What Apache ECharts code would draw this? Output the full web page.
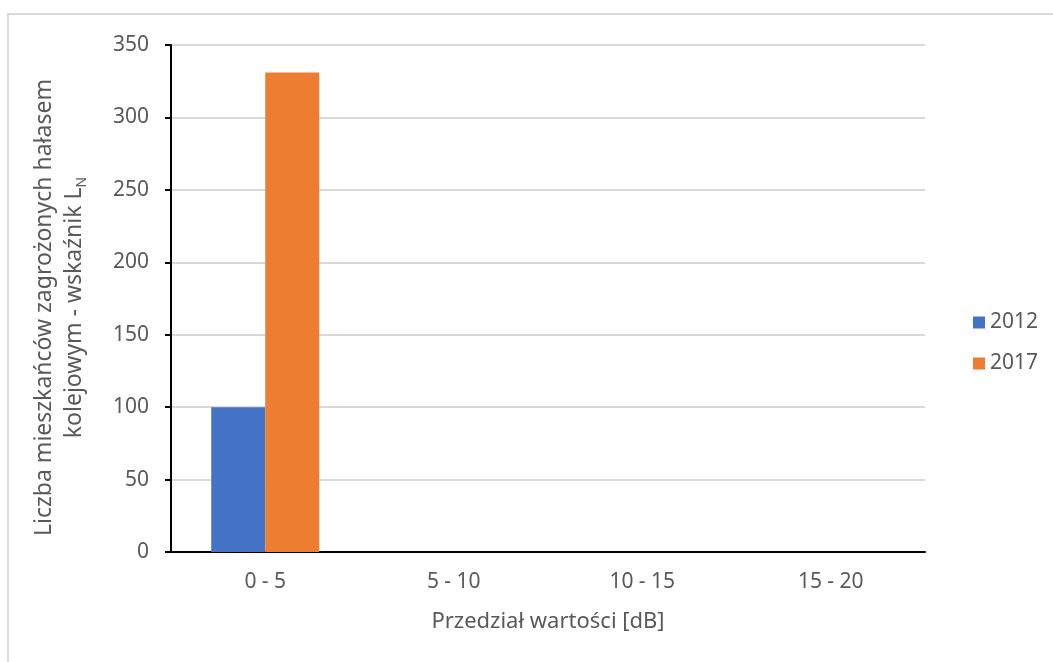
<!DOCTYPE html>
<html>
<head>
<meta charset="utf-8">
<script src="https://cdn.jsdelivr.net/npm/echarts@6/dist/echarts.min.js"></script>
<style>
  html, body { margin: 0; padding: 0; background: #fff; }
  #main { width: 1053px; height: 662px; }
  .frame { position: absolute; left: 7px; top: 13px; right: -4px; bottom: -4px; border: 2px solid #d9d9d9; pointer-events: none; }
</style>
</head>
<body>
<div id="main"></div>
<div class="frame"></div>
<script>
// przedziały wartości [dB]
var categories = ['0 - 5', '5 - 10', '10 - 15', '15 - 20']
var values2012 = [100, 0, 0, 0]
var values2017 = [331, 0, 0, 0]
var yTicks = [0, 50, 100, 150, 200, 250, 300, 350]

var chartDom = document.getElementById('main')
var myChart = echarts.init(chartDom)
var font = 'Noto Sans'
var grey = '#595959'
var option

option = {
  animation: false,
  textStyle: { fontFamily: font },
  grid: {
    left: 171,
    right: 128,
    top: 45,
    bottom: 110
  },
  legend: {
    orient: 'vertical',
    left: 968,
    top: 307,
    itemWidth: 12,
    itemHeight: 12,
    itemGap: 20,
    icon: 'rect',
    textStyle: { color: grey, fontSize: 21, fontFamily: font },
    data: ['2012', '2017']
  },
  xAxis: {
    type: 'category',
    data: categories,
    name: 'Przedział wartości [dB]',
    nameLocation: 'middle',
    nameGap: 59,
    nameTextStyle: { color: grey, fontSize: 22, fontFamily: font },
    axisLine: { lineStyle: { color: '#000', width: 2 } },
    axisTick: { show: false },
    axisLabel: { color: grey, fontSize: 21, margin: 20 }
  },
  yAxis: {
    type: 'value',
    min: yTicks[0],
    max: yTicks[yTicks.length - 1],
    interval: 50,
    name: 'Liczba mieszkańców zagrożonych hałasem\nkolejowym - wskaźnik L{sub|N}',
    nameLocation: 'middle',
    nameGap: 82,
    nameTextStyle: {
      color: grey,
      fontSize: 23,
      fontFamily: font,
      lineHeight: 30,
      padding: [0, 18, 0, 0],
      rich: {
        sub: { fontSize: 14, color: grey, verticalAlign: 'bottom', padding: [10, 0, 0, 0] }
      }
    },
    axisLine: { show: true, lineStyle: { color: '#000', width: 2 } },
    axisTick: { show: true, length: 6, lineStyle: { color: '#000', width: 2 } },
    axisLabel: { color: grey, fontSize: 21, margin: 22 },
    splitLine: { lineStyle: { color: '#d9d9d9', width: 2 } }
  },
  series: [
    {
      name: '2012',
      type: 'bar',
      data: values2012,
      barWidth: 54,
      barGap: '0%',
      itemStyle: { color: '#4472c4' }
    },
    {
      name: '2017',
      type: 'bar',
      data: values2017,
      barWidth: 54,
      itemStyle: { color: '#ed7d31' }
    }
  ]
}

option && myChart.setOption(option)
</script>
</body>
</html>
